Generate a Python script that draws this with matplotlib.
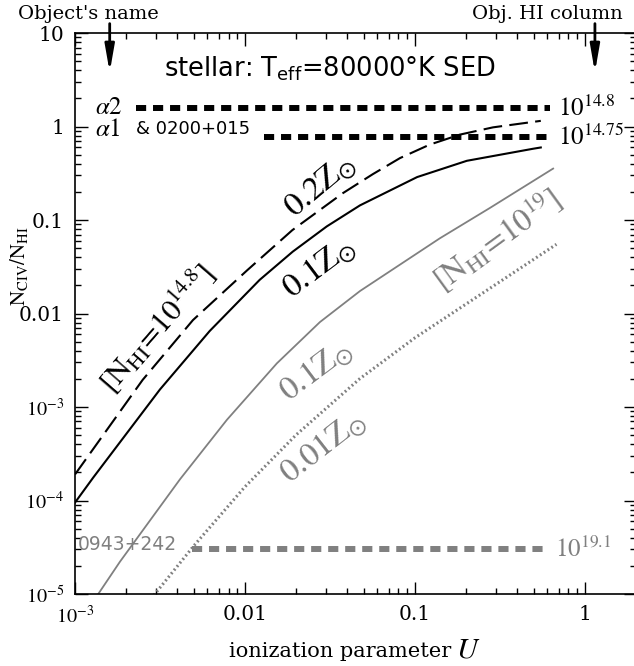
import matplotlib
matplotlib.use('Agg')
import matplotlib.pyplot as plt

plt.rcParams['font.family'] = 'DejaVu Serif'
plt.rcParams['mathtext.fontset'] = 'stix'

# N_HI = 10^14.8 models (black)
u_01z_148 = [1e-3, 1.28e-3, 3.16e-3, 6.2e-3, 0.0122, 0.0191, 0.0303, 0.0475, 0.103, 0.202, 0.494, 0.55]
r_01z_148 = [9.5e-5, 1.76e-4, 1.54e-3, 6.5e-3, 0.0229, 0.0459, 0.0855, 0.1435, 0.288, 0.43, 0.578, 0.597]
u_02z_148 = [1e-3, 2.5e-3, 4.94e-3, 0.0103, 0.019, 0.0377, 0.0566, 0.0817, 0.122, 0.184, 0.288, 0.494, 0.55]
r_02z_148 = [1.9e-4, 1.95e-3, 8.5e-3, 0.029, 0.078, 0.194, 0.31, 0.46, 0.64, 0.82, 0.98, 1.12, 1.15]

# N_HI = 10^19 models (gray)
u_01z_19 = [1.2e-3, 1.37e-3, 1.84e-3, 4.15e-3, 7.83e-3, 0.0154, 0.0276, 0.0475, 0.14, 0.276, 0.65]
r_01z_19 = [6.9e-6, 1e-5, 2.22e-5, 1.69e-4, 7.3e-4, 2.93e-3, 8.1e-3, 0.0174, 0.0637, 0.1346, 0.355]
u_001z_19 = [2.7e-3, 2.95e-3, 5.01e-3, 0.01, 0.02, 0.0474, 0.1, 0.251, 0.68]
r_001z_19 = [8.1e-6, 1e-5, 3.29e-5, 1.404e-4, 5.04e-4, 2.01e-3, 5.5e-3, 0.0166, 0.055]

# observed ratios (object, N_CIV/N_HI, U range, N_HI label)
obs_names = [r'$\alpha2$', r'$\alpha1$', '0943+242']
obs_extra = '& 0200+015'
obs_ratio = [1.58, 0.77, 3e-5]
obs_u_lo = [2.3e-3, 0.013, 4.9e-3]
obs_u_hi = [0.62, 0.62, 0.57]
obs_nhi = [r'$10^{14.8}$', r'$10^{14.75}$', r'$10^{19.1}$']

xticks = [1e-3, 0.01, 0.1, 1]
xlabels = [r'$10^{-3}$', '0.01', '0.1', '1']
yticks = [1e-5, 1e-4, 1e-3, 0.01, 0.1, 1, 10]
ylabels = [r'$10^{-5}$', r'$10^{-4}$', r'$10^{-3}$', '0.01', '0.1', '1', '10']

gray = '#808080'

fig = plt.figure(figsize=(6.34, 6.66), dpi=100)
ax = fig.add_axes([0.1183, 0.1081, 0.885, 0.8423])
ax.set_xscale('log')
ax.set_yscale('log')
ax.set_xlim(1e-3, 2)
ax.set_ylim(1e-5, 10)

ax.plot(u_01z_148, r_01z_148, color='k', lw=1.5)
ax.plot(u_02z_148, r_02z_148, color='k', lw=1.5, dashes=(9, 3.5))
ax.plot(u_01z_19, r_01z_19, color=gray, lw=1.3)
ax.plot(u_001z_19, r_001z_19, color=gray, lw=2.2, dashes=(0.6, 0.9))

for i in range(3):
    c = 'k' if i < 2 else gray
    ax.plot([obs_u_lo[i], obs_u_hi[i]], [obs_ratio[i], obs_ratio[i]], color=c, lw=4.3,
            dashes=(1.7, 1.15))
    ax.text(0.69 if i < 2 else 0.67, obs_ratio[i], obs_nhi[i], color=c, fontsize=18,
            ha='left', va='center')

ax.text(1.31e-3, 1.6, obs_names[0], fontsize=18, ha='left', va='center')
ax.text(1.31e-3, 0.93, obs_names[1], fontsize=18, ha='left', va='center')
ax.text(2.3e-3, 0.93, obs_extra, fontsize=13, ha='left', va='center', family='DejaVu Sans')
ax.text(1.04e-3, 3.4e-5, obs_names[2], fontsize=13.5, ha='left', va='center', color=gray,
        family='DejaVu Sans')

ax.text(0.0316, 4.2, r'stellar: T$_{\rm eff}$=80000°K SED', fontsize=18.5, ha='center',
        va='center', family='DejaVu Sans', math_fontfamily='dejavusans')

ax.text(0.028, 0.23, r'$0.2\mathrm{Z}_{\odot}$', fontsize=24, rotation=40, ha='center', va='center')
ax.text(0.0275, 0.0307, r'$0.1\mathrm{Z}_{\odot}$', fontsize=24, rotation=37, ha='center', va='center')
ax.text(3.03e-3, 7.0e-3, r'$[\mathrm{N_{HI}}\!=\!10^{14.8}]$', fontsize=22, rotation=49,
        ha='center', va='center')
ax.text(0.0265, 2.4e-3, r'$0.1\mathrm{Z}_{\odot}$', fontsize=24, rotation=37, ha='center',
        va='center', color=gray)
ax.text(0.029, 3.7e-4, r'$0.01\mathrm{Z}_{\odot}$', fontsize=24, rotation=38, ha='center',
        va='center', color=gray)
ax.text(0.303, 0.061, r'$[\mathrm{N_{HI}}\!=\!10^{19}]$', fontsize=23, rotation=36,
        ha='center', va='center', color=gray)

# arrows pointing at the labels on the plot
for ux in [1.6e-3, 1.145]:
    ax.annotate('', xy=(ux, 3.55), xytext=(ux, 13.5), annotation_clip=False,
                arrowprops=dict(arrowstyle='-|>,head_length=1.6,head_width=0.28',
                                color='k', lw=2))
fig.text(0.140, 0.979, "Object's name", fontsize=14, ha='center', va='center')
fig.text(0.863, 0.979, 'Obj. HI column', fontsize=14, ha='center', va='center')

ax.set_xticks(xticks, xlabels)
ax.set_yticks(yticks, ylabels)
ax.tick_params(which='both', direction='in', top=True, right=True, labelsize=14.5, width=1)
ax.tick_params(which='major', length=9, pad=8)
ax.tick_params(which='minor', length=4.5)
for s in ax.spines.values():
    s.set_linewidth(1.2)

fig.text(0.03, 0.6, r'$\mathrm{N_{CIV}/N_{HI}}$', rotation=90, fontsize=15, ha='center', va='center')
fig.text(0.712, 0.0135, 'ionization parameter', fontsize=15, ha='right', va='baseline')
fig.text(0.72, 0.0135, r'$U$', fontsize=21, ha='left', va='baseline')

fig.savefig('out.png', dpi=100)
